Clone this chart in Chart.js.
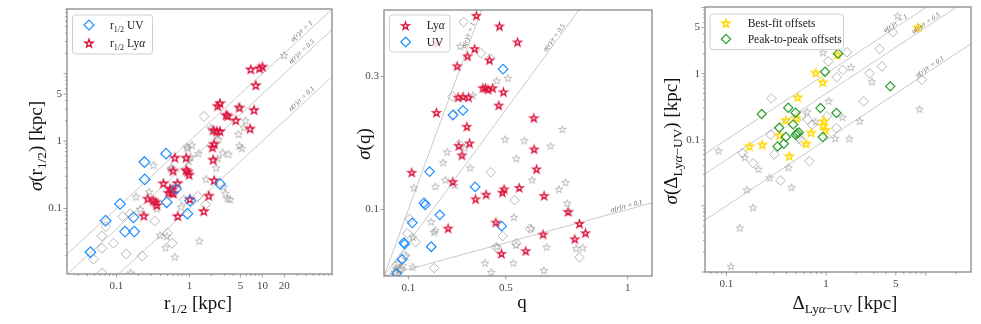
<!DOCTYPE html>
<html>
<head>
<meta charset="utf-8">
<script src="https://cdn.jsdelivr.net/npm/chart.js@4.4.1/dist/chart.umd.min.js"></script>
<style>
  body { margin:0; background:#fff; }
  #wrap { position:relative; width:981px; height:324px; overflow:hidden; }
  canvas { position:absolute; top:0; }
</style>
</head>
<body>
<div id="wrap">
  <canvas id="p1" width="340" height="324" style="left:0px"></canvas>
  <canvas id="p2" width="320" height="324" style="left:340px"></canvas>
  <canvas id="p3" width="321" height="324" style="left:660px"></canvas>
</div>
<script>
// sigma(r)/r reference lines
const ratios = [1, 0.5, 0.1]

// panel 1 : r_1/2
const r12UvX = [0.044,0.071,0.112,0.131,0.175,0.171,0.242,0.244,0.479,0.489,0.657,0.939,1.02,2.63]
const r12UvY = [0.0225,0.066,0.117,0.0455,0.0455,0.074,0.49,0.27,0.65,0.124,0.196,0.084,0.13,0.232]
const r12LyaX = [6.92,9.1,10.0,8.1,2.63,2.44,4.84,7.69,3.18,3.35,4.31,2.13,2.37,2.63,6.78,2.18,2.07,2.11,0.63,0.9,0.598,0.9,0.949,0.99,0.44,0.685,0.544,0.585,0.573,0.516,0.604,0.269,0.321,0.346,0.357,1.01,1.84,2.18,0.237,0.692,1.57]
const r12LyaY = [11.7,12.1,12.8,6.79,3.67,3.35,3.16,2.92,2.46,2.38,2.05,1.47,1.41,1.41,1.54,0.913,0.815,0.534,0.572,0.572,0.367,0.375,0.355,0.32,0.238,0.24,0.198,0.194,0.173,0.173,0.169,0.141,0.132,0.126,0.113,0.139,0.156,0.264,0.0787,0.0778,0.0923]
const r12GreyStarX = [19.8,4.69,5.85,5.61,4.69,4.84,5.21,1.96,2.2,2.37,2.5,0.919,1.08,1.33,2.86,3.42,2.44,2.32,1.69,1.04,0.979,0.549,0.321,0.186,0.28,0.211,0.357,0.396,0.489,0.469,0.63,1.37,0.157,0.769,2.92,3.11,3.32,3.61,0.573,0.949]
const r12GreyStarY = [18.9,3.27,2.03,1.61,1.28,0.862,0.787,1.58,1.39,1.26,1.07,0.833,0.882,0.663,0.679,0.648,0.56,0.406,0.276,0.592,0.511,0.393,0.445,0.151,0.179,0.0989,0.101,0.0406,0.0393,0.0267,0.0194,0.0335,0.0112,0.107,0.212,0.169,0.142,0.138,0.406,0.787]
const r12GreyDiaX = [1.59,0.063,0.0714,0.063,0.0484,0.091,0.136,0.225,0.122,0.154,0.335,0.5,0.579,0.0636,1.3,1.67,0.845]
const r12GreyDiaY = [2.32,0.0393,0.054,0.0258,0.0177,0.0306,0.0212,0.0198,0.0761,0.0833,0.0656,0.043,0.0306,0.011,0.151,0.115,0.135]
const p1XLabels = [0.1, 1, 5, 10, 20]
const p1YLabels = [0.1, 1, 5]

// panel 2 : q
const qLyaX = [0.379,0.474,0.218,0.548,0.372,0.343,0.433,0.300,0.406,0.417,0.427,0.446,0.490,0.304,0.324,0.347,0.471,0.215,0.340,0.615,0.307,0.351,0.320,0.616,0.114,0.626,0.282,0.493,0.486,0.555,0.376,0.419,0.657,0.755,0.263,0.459,0.802,0.827,0.783,0.653,0.482,0.582]
const qLyaY = [0.392,0.376,0.351,0.352,0.342,0.331,0.325,0.316,0.283,0.283,0.281,0.283,0.277,0.269,0.270,0.269,0.257,0.246,0.225,0.238,0.196,0.200,0.182,0.191,0.156,0.161,0.142,0.131,0.126,0.133,0.116,0.123,0.121,0.097,0.072,0.081,0.079,0.065,0.056,0.063,0.034,0.038]
const qUvX = [0.489,0.324,0.283,0.187,0.374,0.164,0.169,0.229,0.116,0.082,0.085,0.194,0.074,0.483,0.052]
const qUvY = [0.311,0.249,0.242,0.157,0.134,0.110,0.107,0.092,0.080,0.050,0.048,0.044,0.025,0.075,0.004]
const qGreyStarX = [0.313,0.463,0.508,0.365,0.331,0.259,0.243,0.354,0.211,0.123,0.252,0.289,0.497,0.576,0.732,0.683,0.543,0.608,0.745,0.718,0.752,0.762,0.533,0.194,0.205,0.211,0.119,0.667,0.789,0.816,0.415,0.531,0.656,0.440,0.118,0.066,0.076,0.089,0.603,0.542,0.463,0.050,0.060,0.045]
const qGreyStarY = [0.346,0.294,0.298,0.272,0.193,0.187,0.171,0.163,0.135,0.133,0.145,0.137,0.206,0.204,0.221,0.196,0.177,0.145,0.141,0.131,0.110,0.096,0.089,0.082,0.066,0.069,0.059,0.044,0.042,0.043,0.020,0.020,0.009,0.006,0.014,0.010,0.016,0.030,0.072,0.047,0.045,0.012,0.020,0.006]
const qGreyDiaX = [0.327,0.398,0.436,0.281,0.285,0.309,0.438,0.536,0.599,0.487,0.460,0.543,0.802,0.206,0.105,0.096,0.130,0.085,0.069,0.045,0.055]
const qGreyDiaY = [0.382,0.335,0.327,0.270,0.243,0.198,0.156,0.114,0.071,0.060,0.043,0.049,0.028,0.012,0.086,0.064,0.051,0.031,0.010,0.005,0.018]
const p2XLabels = [0.1, 0.5, 1]
const p2YLabels = [0.1, 0.3]

// panel 3 : offsets
const bestFitX = [8.32,1.30,0.788,0.926,0.517,0.395,0.505,0.341,0.708,0.631,0.948,0.933,0.985,0.427,0.229,0.170]
const bestFitY = [5.04,1.94,1.04,0.748,0.443,0.199,0.213,0.118,0.129,0.088,0.194,0.165,0.142,0.0572,0.085,0.0802]
const peakX = [1.32,0.977,4.40,0.226,0.417,0.494,0.878,1.27,0.339,0.468,0.395,0.509,0.533,0.497,0.377,0.326,0.926]
const peakY = [2.01,1.07,0.643,0.245,0.305,0.257,0.302,0.254,0.152,0.171,0.110,0.125,0.129,0.118,0.087,0.0793,0.110]
const offGreyStarX = [5.21,0.933,1.78,2.88,1.06,0.646,1.46,2.17,1.23,1.71,8.64,0.0832,0.153,0.209,0.420,0.271,0.450,0.160,0.185,0.136,0.111,0.782]
const offGreyStarY = [7.57,2.11,1.26,0.765,0.390,0.269,0.221,0.194,0.106,0.105,0.295,0.069,0.0546,0.0364,0.0385,0.0269,0.0192,0.0177,0.00955,0.0047,0.00123,0.190]
const offGreyDiaX = [4.68,3.44,1.62,1.05,1.47,1.28,2.73,3.63,9.12,2.38,0.282,0.656,0.724,1.27,1.02,0.537,0.681,0.302,0.145,0.185,0.349,0.278,0.575,0.562]
const offGreyDiaY = [4.23,2.36,2.11,1.54,1.14,0.88,1.01,1.29,0.811,0.381,0.423,0.201,0.169,0.150,0.226,0.105,0.0475,0.060,0.0628,0.0443,0.0242,0.119,0.0944,0.231]
const p3XLabels = [0.1, 1, 5]
const p3YLabels = [0.1, 1, 5]

const SERIF = '"Liberation Serif","Times New Roman",serif'
const GREY = 'rgba(125,125,125,0.62)'
const RED = '#dc143c', BLUE = '#1e90ff', GOLD = '#ffd700', GREEN = '#2ca02c'

function pts(xs, ys){ return xs.map((x,i)=>({x:x, y:ys[i]})) }

function starIcon(color, r, lw){
  var c = document.createElement('canvas')
  var s = Math.ceil(2*r + 2*lw) + 2
  c.width = c.height = s
  var g = c.getContext('2d')
  g.beginPath()
  for (var i=0;i<10;i++){
    var rr = i%2==0 ? r : r*0.382
    var a = -Math.PI/2 + i*Math.PI/5
    var px = s/2 + rr*Math.cos(a), py = s/2 + 0.6 + rr*Math.sin(a)
    if (i==0) g.moveTo(px,py); else g.lineTo(px,py)
  }
  g.closePath()
  g.strokeStyle = color; g.lineWidth = lw; g.lineJoin = 'miter'
  g.stroke()
  return c
}

function logTicks(min, max){
  var out = []
  for (var e=Math.floor(Math.log10(min)); e<=Math.ceil(Math.log10(max)); e++){
    for (var m=1;m<10;m++){
      var v = +(m*Math.pow(10,e)).toPrecision(3)
      if (v>=min && v<=max) out.push(v)
    }
  }
  return out
}

function axis(type, min, max, tickVals, labels, size, horiz){
  return {
    type: type, min: min, max: max, bounds: 'data',
    grid: {display:false, drawTicks:false},
    border: {display:false},
    afterBuildTicks: s => { s.ticks = tickVals.map(v=>({value:v})) },
    afterFit: s => {
      if (horiz) s.height = size; else s.width = size
      s.paddingTop = s.paddingBottom = s.paddingLeft = s.paddingRight = 0
    },
    ticks: {
      autoSkip:false, maxRotation:0, padding: horiz ? 6 : 5, color:'#484848',
      font:{family:SERIF, size:11},
      callback: v => labels.indexOf(v) >= 0 ? String(v) : ''
    }
  }
}

function fontFor(s, size){
  return (s.it ? 'italic ' : '') + (s.sub ? size*0.7 : size) + 'px ' + SERIF
}
function drawRich(ctx, segs, x, y, size, rot, color, align){
  ctx.save()
  ctx.translate(x, y)
  if (rot) ctx.rotate(rot)
  var w = 0
  segs.forEach(s => { ctx.font = fontFor(s, size); w += ctx.measureText(s.t).width })
  var cx = align == 'left' ? 0 : -w/2
  ctx.textAlign = 'left'; ctx.textBaseline = 'alphabetic'; ctx.fillStyle = color
  segs.forEach(s => {
    ctx.font = fontFor(s, size)
    ctx.fillText(s.t, cx, size*0.35 + (s.sub ? size*0.25 : 0))
    cx += ctx.measureText(s.t).width
  })
  ctx.restore()
}
function diamond(ctx, x, y, r, color, lw){
  ctx.beginPath()
  ctx.moveTo(x-r, y); ctx.lineTo(x, y-r); ctx.lineTo(x+r, y); ctx.lineTo(x, y+r); ctx.closePath()
  ctx.strokeStyle = color; ctx.lineWidth = lw; ctx.stroke()
}
function isDecade(v){ var l = Math.log10(v); return Math.abs(l-Math.round(l)) < 1e-9 }

function decor(d){
  return {
    id: 'decor',
    afterDatasetsDraw: function(chart){
      var ctx = chart.ctx, a = chart.chartArea, sx = chart.scales.x, sy = chart.scales.y
      ctx.save()
      // labels on the reference lines
      ratios.forEach(function(c, i){
        var x0 = d.lineLabelX[i]
        var px = sx.getPixelForValue(x0), py = sy.getPixelForValue(c*x0)
        var qx = sx.getPixelForValue(x0*1.2), qy = sy.getPixelForValue(c*x0*1.2)
        var ang = Math.atan2(qy-py, qx-px)
        drawRich(ctx, [{t:'σ(r)/r = '+c, it:true}], px + Math.sin(ang)*d.off, py - Math.cos(ang)*d.off, 7, ang, '#666')
      })
      // frame and ticks
      ctx.strokeStyle = '#888'; ctx.lineWidth = 1.3
      ctx.strokeRect(a.left, a.top, a.right-a.left, a.bottom-a.top)
      ctx.lineWidth = 0.8
      sx.ticks.forEach(function(t){
        var p = sx.getPixelForValue(t.value)
        var len = (d.xLabels.indexOf(t.value) >= 0 || isDecade(t.value)) ? 3.5 : 2
        ctx.beginPath(); ctx.moveTo(p, a.bottom); ctx.lineTo(p, a.bottom+len); ctx.stroke()
      })
      sy.ticks.forEach(function(t){
        var p = sy.getPixelForValue(t.value)
        var len = (d.yLabels.indexOf(t.value) >= 0 || isDecade(t.value)) ? 3.5 : 2
        ctx.beginPath(); ctx.moveTo(a.left, p); ctx.lineTo(a.left-len, p); ctx.stroke()
      })
      // legend
      var L = d.legend
      ctx.beginPath()
      if (ctx.roundRect) ctx.roundRect(L.x, L.y, L.w, L.h, 3); else ctx.rect(L.x, L.y, L.w, L.h)
      ctx.fillStyle = 'rgba(255,255,255,0.8)'; ctx.fill()
      ctx.strokeStyle = '#d0d0d0'; ctx.lineWidth = 1; ctx.stroke()
      L.items.forEach(function(it, i){
        var y = L.rows[i]
        if (it.icon) ctx.drawImage(it.icon, Math.round(L.iconX - it.icon.width/2), Math.round(y - it.icon.height/2))
        else diamond(ctx, L.iconX, y, it.r, it.color, it.lw)
        drawRich(ctx, it.label, L.textX, y, 11.5, 0, '#222', 'left')
      })
      // axis titles
      drawRich(ctx, d.xTitle, d.xPos[0], d.xPos[1], 19, 0, '#111')
      drawRich(ctx, d.yTitle, d.yPos[0], d.yPos[1], 19, -Math.PI/2, '#111')
      ctx.restore()
    }
  }
}

function refLines(xmin, xmax){
  return ratios.map(c => ({
    type:'line', showLine:true, order:10,
    data:[{x:xmin, y:c*xmin}, {x:xmax, y:c*xmax}],
    borderColor:'#bdbdbd', borderWidth:0.8, pointRadius:0
  }))
}
function starSet(xs, ys, icon, order){
  return {data:pts(xs,ys), pointStyle:icon, order:order}
}
function diaSet(xs, ys, color, r, lw, order){
  return {data:pts(xs,ys), pointStyle:'rectRot', pointRadius:r, pointBorderColor:color,
          pointBorderWidth:lw, pointBackgroundColor:'rgba(0,0,0,0)', order:order}
}

function makeChart(id, cfg){
  return new Chart(document.getElementById(id), {
    type:'scatter',
    data:{datasets: cfg.datasets},
    options:{
      responsive:false, animation:false, events:[],
      layout:{padding:{top:cfg.top, right:cfg.right, left:0, bottom:0}},
      plugins:{legend:{display:false}, tooltip:{enabled:false}},
      scales:{x:cfg.x, y:cfg.y}
    },
    plugins:[decor(cfg.decor)]
  })
}

// ---- panel 1
var redStar = starIcon(RED, 4.3, 1.3)
var greyStar1 = starIcon(GREY, 4.2, 0.8)
makeChart('p1', {
  top:9, right:8,
  x: axis('logarithmic', 0.021, 90, logTicks(0.021, 90), p1XLabels, 50, true),
  y: axis('logarithmic', 0.0107, 91, logTicks(0.0107, 91), p1YLabels, 67, false),
  datasets: refLines(0.021, 90).concat([
    starSet(r12GreyStarX, r12GreyStarY, greyStar1, 5),
    diaSet(r12GreyDiaX, r12GreyDiaY, GREY, 5, 0.9, 5),
    starSet(r12LyaX, r12LyaY, redStar, 1),
    diaSet(r12UvX, r12UvY, BLUE, 5.3, 1.2, 0)
  ]),
  decor:{
    lineLabelX:[38, 38, 38], off:5,
    xLabels:p1XLabels, yLabels:p1YLabels,
    legend:{x:72.5, y:15, w:80, h:39, rows:[25, 43], iconX:89, textX:110, items:[
      {r:5, color:BLUE, lw:1.2, label:[{t:'r'},{t:'1/2',sub:true},{t:' UV'}]},
      {icon:redStar, label:[{t:'r'},{t:'1/2',sub:true},{t:' Ly'},{t:'α',it:true}]}
    ]},
    xTitle:[{t:'r'},{t:'1/2',sub:true},{t:' [kpc]'}], xPos:[198, 302],
    yTitle:[{t:'σ',it:true},{t:'(r'},{t:'1/2',sub:true},{t:') [kpc]'}], yPos:[35, 146]
  }
})

// ---- panel 2
var redStar2 = starIcon(RED, 4.0, 1.3)
var greyStar2 = starIcon(GREY, 4.0, 0.8)
makeChart('p2', {
  top:10, right:8,
  x: axis('linear', 0, 1.1, p2XLabels, p2XLabels, 48, true),
  y: axis('linear', 0, 0.4, p2YLabels, p2YLabels, 44, false),
  datasets: refLines(0, 1.1).concat([
    starSet(qGreyStarX, qGreyStarY, greyStar2, 5),
    diaSet(qGreyDiaX, qGreyDiaY, GREY, 4.8, 0.9, 5),
    diaSet(qUvX, qUvY, BLUE, 4.8, 1.2, 1),
    starSet(qLyaX, qLyaY, redStar2, 0)
  ]),
  decor:{
    lineLabelX:[0.36, 0.71, 1.0], off:4,
    xLabels:p2XLabels, yLabels:p2YLabels,
    legend:{x:49.5, y:15, w:60.5, h:37, rows:[25, 42], iconX:65.7, textX:86.7, items:[
      {icon:redStar2, label:[{t:'Ly'},{t:'α',it:true}]},
      {r:4.8, color:BLUE, lw:1.2, label:[{t:'UV'}]}
    ]},
    xTitle:[{t:'q'}], xPos:[182, 301],
    yTitle:[{t:'σ',it:true},{t:'(q)'}], yPos:[23.5, 144]
  }
})

// ---- panel 3
var goldStar = starIcon(GOLD, 4.3, 1.3)
var greyStar3 = starIcon(GREY, 4.0, 0.8)
makeChart('p3', {
  top:7, right:10,
  x: axis('logarithmic', 0.061, 28.4, logTicks(0.061, 28.4), p3XLabels, 52, true),
  y: axis('logarithmic', 0.001, 10.2, logTicks(0.001, 10.2), p3YLabels, 45, false),
  datasets: refLines(0.061, 28.4).concat([
    starSet(offGreyStarX, offGreyStarY, greyStar3, 5),
    diaSet(offGreyDiaX, offGreyDiaY, GREY, 4.8, 0.9, 5),
    starSet(bestFitX, bestFitY, goldStar, 1),
    diaSet(peakX, peakY, GREEN, 4.6, 1.2, 0)
  ]),
  decor:{
    lineLabelX:[5.2, 10.5, 11.5], off:4,
    xLabels:p3XLabels, yLabels:p3YLabels,
    legend:{x:50, y:14, w:133.5, h:35.5, rows:[23, 39], iconX:66, textX:87.7, items:[
      {icon:goldStar, label:[{t:'Best-fit offsets'}]},
      {r:4.6, color:GREEN, lw:1.2, label:[{t:'Peak-to-peak offsets'}]}
    ]},
    xTitle:[{t:'Δ'},{t:'Ly',sub:true},{t:'α',sub:true,it:true},{t:'−UV',sub:true},{t:' [kpc]'}], xPos:[185, 302],
    yTitle:[{t:'σ',it:true},{t:'(Δ'},{t:'Ly',sub:true},{t:'α',sub:true,it:true},{t:'−UV',sub:true},{t:') [kpc]'}], yPos:[10.5, 141]
  }
})
</script>
</body>
</html>
